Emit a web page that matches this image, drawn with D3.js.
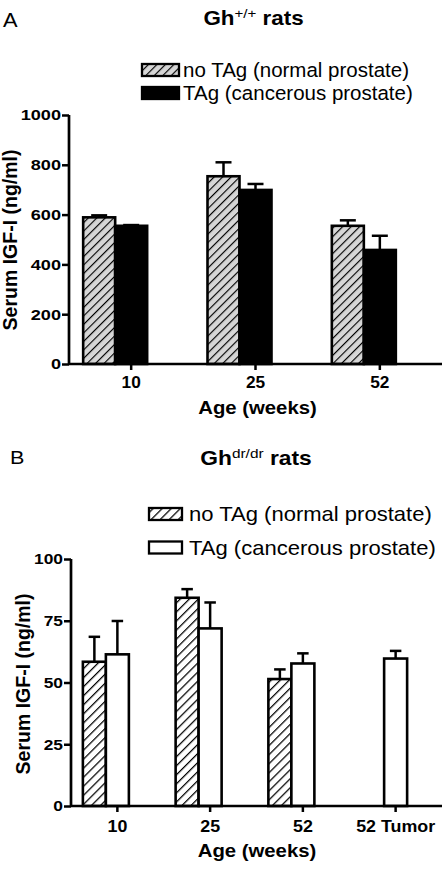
<!DOCTYPE html>
<html><head><meta charset="utf-8">
<script src="https://cdn.jsdelivr.net/npm/d3@7"></script>
<style>body{margin:0;background:#fff}svg{display:block;font-family:"Liberation Sans",Arial,sans-serif}</style>
</head><body>
<script>
// Panel A data (Gh+/+ rats)
const categoriesA = ["10", "25", "52"];
const noTagA = [589, 754, 555];
const noTagErrA = [8, 56, 22];
const tagA = [555, 699, 458];
const tagErrA = [3, 24, 57];
const yTicksA = [0, 200, 400, 600, 800, 1000];

// Panel B data (Ghdr/dr rats)
const categoriesB = ["10", "25", "52", "52 Tumor"];
const noTagB = [58.4, 84.3, 51.4, null];
const noTagErrB = [10.1, 3.5, 3.9, null];
const tagB = [61.4, 71.9, 57.7, 59.7];
const tagErrB = [13.5, 10.5, 4.1, 3.1];
const yTicksB = [0, 25, 50, 75, 100];

const legendLabels = ["no TAg (normal prostate)", "TAg (cancerous prostate)"];

const W = 444, H = 870;
const svg = d3.select("body").append("svg").attr("width", W).attr("height", H);
const defs = svg.append("defs");
function hatch(id, bg, spacing, sw) {
  const p = defs.append("pattern").attr("id", id).attr("patternUnits", "userSpaceOnUse")
    .attr("width", spacing).attr("height", spacing).attr("patternTransform", "rotate(45)");
  p.append("rect").attr("width", spacing).attr("height", spacing).attr("fill", bg);
  p.append("line").attr("x1", 0).attr("y1", 0).attr("x2", 0).attr("y2", spacing)
    .attr("stroke", "#000").attr("stroke-width", sw);
}
hatch("hA", "#d6d6d6", 6, 2.3);
hatch("hB", "#ffffff", 6.4, 2.5);

function txt(g, x, y, str, size, weight, s, anchor) {
  return g.append("text").attr("transform", `translate(${x},${y}) scale(${s},1)`)
    .attr("font-size", size).attr("font-weight", weight).attr("text-anchor", anchor || "start").text(str);
}

function panel(cfg) {
  const g = svg.append("g");
  const x = d3.scaleBand().domain(cfg.cats).range([cfg.x0, cfg.x1]).paddingInner(0).paddingOuter(0);
  const y = d3.scaleLinear().domain([0, cfg.ymax]).range([cfg.yb, cfg.yt]);
  const bw = cfg.bw;
  // letter
  txt(g, cfg.letterX, cfg.letterY, cfg.letter, cfg.letterSize, "normal", cfg.letterS);
  // title
  const t = g.append("text").attr("transform", `translate(${cfg.titleX},${cfg.titleY}) scale(${cfg.titleS},1)`)
    .attr("font-size", 20).attr("font-weight", "bold").attr("text-anchor", "middle");
  t.append("tspan").text("Gh");
  t.append("tspan").attr("dy", -7.5).attr("font-size", 13.5).attr("font-weight", "normal").text(cfg.sup);
  t.append("tspan").attr("dy", 7.5).text(" rats");
  // legend
  const fills = [cfg.hatchFill, cfg.solidFill];
  legendLabels.forEach((lab, i) => {
    const ly = cfg.legY + i * cfg.legStep;
    g.append("rect").attr("x", cfg.legX).attr("y", ly).attr("width", cfg.legW).attr("height", 12)
      .attr("fill", fills[i]).attr("stroke", "#000").attr("stroke-width", 2.3);
    txt(g, cfg.legX + cfg.legW + cfg.legGap, ly + 13, lab, 20.5, "normal", cfg.legS);
  });
  // bars
  const series = [
    {vals: cfg.noTag, errs: cfg.noTagErr, fill: cfg.hatchFill, off: -1.5},
    {vals: cfg.tag, errs: cfg.tagErr, fill: cfg.solidFill, off: -0.5}
  ];
  series.forEach(s => {
    cfg.cats.forEach((c, i) => {
      if (s.vals[i] == null) return;
      const cx = x(c) + x.bandwidth() / 2;
      const bx = cx + s.off * bw;
      const top = y(s.vals[i]);
      const et = y(s.vals[i] + s.errs[i]);
      g.append("line").attr("x1", bx + bw / 2).attr("x2", bx + bw / 2).attr("y1", top).attr("y2", et)
        .attr("stroke", "#000").attr("stroke-width", 2.5);
      g.append("line").attr("x1", bx + bw / 4).attr("x2", bx + 3 * bw / 4).attr("y1", et).attr("y2", et)
        .attr("stroke", "#000").attr("stroke-width", 2.5);
      g.append("rect").attr("x", bx).attr("y", top).attr("width", bw).attr("height", cfg.yb - top)
        .attr("fill", s.fill).attr("stroke", "#000").attr("stroke-width", 2.6);
    });
  });
  // axes
  const ya = g.append("g").attr("transform", `translate(${cfg.x0},0)`)
    .call(d3.axisLeft(y).tickValues(cfg.yTicks).tickFormat(d3.format("d")).tickSize(7).tickSizeOuter(0).tickPadding(1));
  const xa = g.append("g").attr("transform", `translate(0,${cfg.yb})`)
    .call(d3.axisBottom(x).tickSize(6).tickSizeOuter(0).tickPadding(cfg.xPad));
  [[ya, cfg.ySize, cfg.yS], [xa, cfg.xSize, cfg.xS]].forEach(([a, size, sc]) => {
    a.select(".domain").attr("stroke-width", 2.7);
    a.selectAll(".tick line").attr("stroke-width", 2.5);
    a.selectAll("text").attr("font-size", size).attr("font-weight", "bold").attr("fill", "#000")
      .attr("font-family", '"Liberation Sans",Arial,sans-serif')
      .each(function () {
        const el = d3.select(this);
        const xx = +el.attr("x") || 0;
        el.attr("x", xx / sc).attr("transform", `scale(${sc},1)`);
      });
  });
  ya.select(".domain").attr("d", `M0,${cfg.yb}V${cfg.yt}`);
  xa.select(".domain").attr("d", `M${cfg.x0},0H${cfg.x1}`);
  // axis titles
  txt(g, cfg.xTitleX, cfg.xTitleY, "Age (weeks)", 18, "bold", 1.13, "middle");
  g.append("text").attr("transform", `translate(${cfg.yTitleX},${cfg.yTitleY})rotate(-90)`)
    .attr("text-anchor", "middle").attr("font-size", 19.5).attr("font-weight", "bold").text("Serum IGF-I (ng/ml)");
}

panel({
  cats: categoriesA, noTag: noTagA, noTagErr: noTagErrA, tag: tagA, tagErr: tagErrA, yTicks: yTicksA,
  ymax: 1000, x0: 69, x1: 442, yt: 115, yb: 364, bw: 32,
  hatchFill: "url(#hA)", solidFill: "#000",
  letter: "A", letterX: 3, letterY: 27, letterSize: 19.5, letterS: 1.12,
  titleX: 253.5, titleY: 25, titleS: 1.12, sup: "+/+",
  legX: 142, legW: 37, legGap: 4, legY: 64, legStep: 23, legS: 1.0,
  ySize: 15.5, yS: 1.17, xSize: 16, xS: 1.08, xPad: 7,
  xTitleX: 257.5, xTitleY: 414, yTitleX: 16.5, yTitleY: 240
});
panel({
  cats: categoriesB, noTag: noTagB, noTagErr: noTagErrB, tag: tagB, tagErr: tagErrB, yTicks: yTicksB,
  ymax: 100, x0: 71, x1: 442, yt: 559, yb: 806, bw: 23,
  hatchFill: "url(#hB)", solidFill: "#fff",
  letter: "B", letterX: 10, letterY: 464, letterSize: 18, letterS: 1.2,
  titleX: 256, titleY: 465, titleS: 1.14, sup: "dr/dr",
  legX: 149, legW: 33, legGap: 7, legY: 508, legStep: 33.5, legS: 1.075,
  ySize: 15.5, yS: 1.12, xSize: 17, xS: 1.05, xPad: 8,
  xTitleX: 257, xTitleY: 857, yTitleX: 30, yTitleY: 684
});
</script>
</body></html>
